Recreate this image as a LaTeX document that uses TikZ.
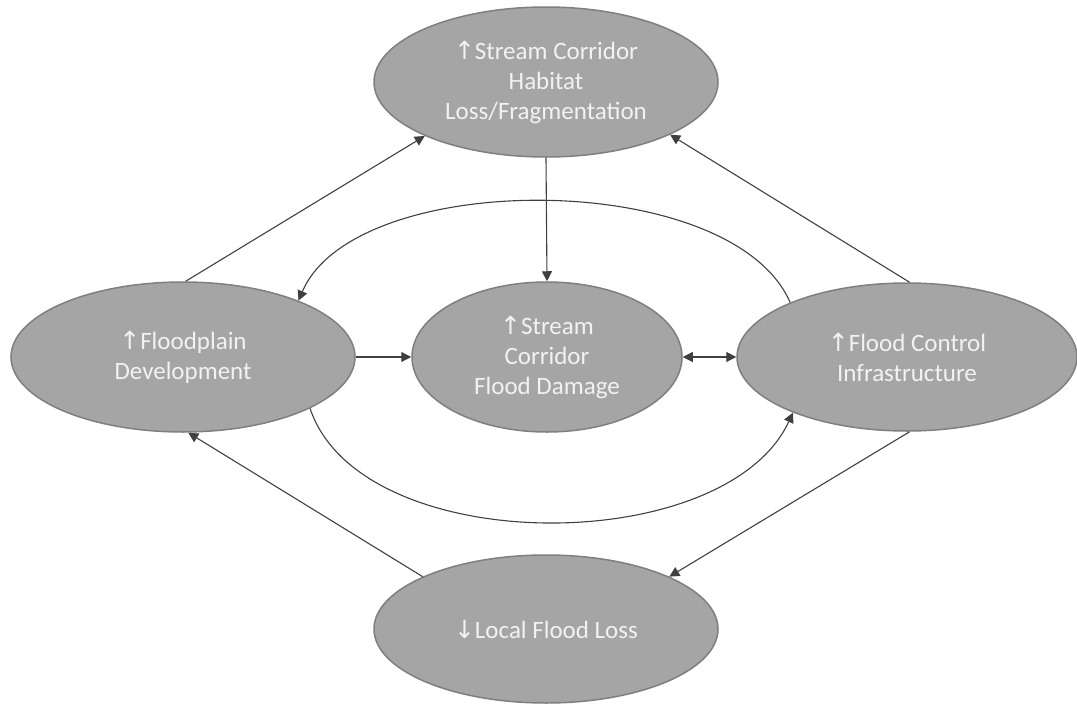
\documentclass[tikz,border=0pt]{standalone}
\usepackage{fontspec}
\setmainfont{Carlito}
\newfontfamily\arrowfont{DejaVu Sans}
\usetikzlibrary{shapes.geometric,arrows.meta}
\definecolor{ellfill}{HTML}{A5A5A5}
\definecolor{elldraw}{HTML}{7F7F7F}
\definecolor{arr}{HTML}{404040}
\definecolor{txt}{HTML}{F2F2F2}
\newcommand{\myup}{{\arrowfont ↑}}
\newcommand{\mydown}{{\arrowfont ↓}}
\begin{document}
\begin{tikzpicture}[x=1pt,y=-1pt,
  ell/.style={ellipse, draw=elldraw, line width=1.5pt, fill=ellfill, text=txt,
    font=\fontsize{25}{30}\selectfont, align=center, inner sep=0pt,
    minimum width=344pt, minimum height=150pt},
  tip/.style={Triangle[length=10pt,width=10pt]},
  conn/.style={draw=arr, line width=1.1pt, -{Triangle[length=10pt,width=10pt]}},
  dconn/.style={draw=arr, line width=1.1pt, {Triangle[length=10pt,width=10pt]}-{Triangle[length=10pt,width=10pt]}},
]
\useasboundingbox (0,0) rectangle (1077,704);
\node[ell] (T) at (546,82) {\myup Stream Corridor\\Habitat\\Loss/Fragmentation};
\node[ell] (L) at (183,357) {\myup Floodplain\\Development};
\node[ell, minimum width=270pt] (C) at (547,357) {\myup Stream\\Corridor\\Flood Damage};
\node[ell, minimum width=340pt, minimum height=148pt] (R) at (907,357) {\myup Flood Control\\Infrastructure};
\node[ell, minimum height=148pt] (B) at (546,629) {\mydown Local Flood Loss};

\draw[conn] (L.88) -- (T.-156);
\draw[conn] (T.south) -- (C.north);
\draw[conn] (R.88) -- (T.-23);
\draw[conn] (L.east) -- (C.west);
\draw[dconn] (C.east) -- (R.west);
\draw[conn] (R.-88) -- (B.23);
\draw[conn] (B.157) -- (L.-86);
\draw[conn] (R.155) .. controls (732,168) and (355,168) .. (L.26);
\draw[conn] (L.-22) .. controls (360,559) and (725,559) .. (R.-154);
\end{tikzpicture}
\end{document}
